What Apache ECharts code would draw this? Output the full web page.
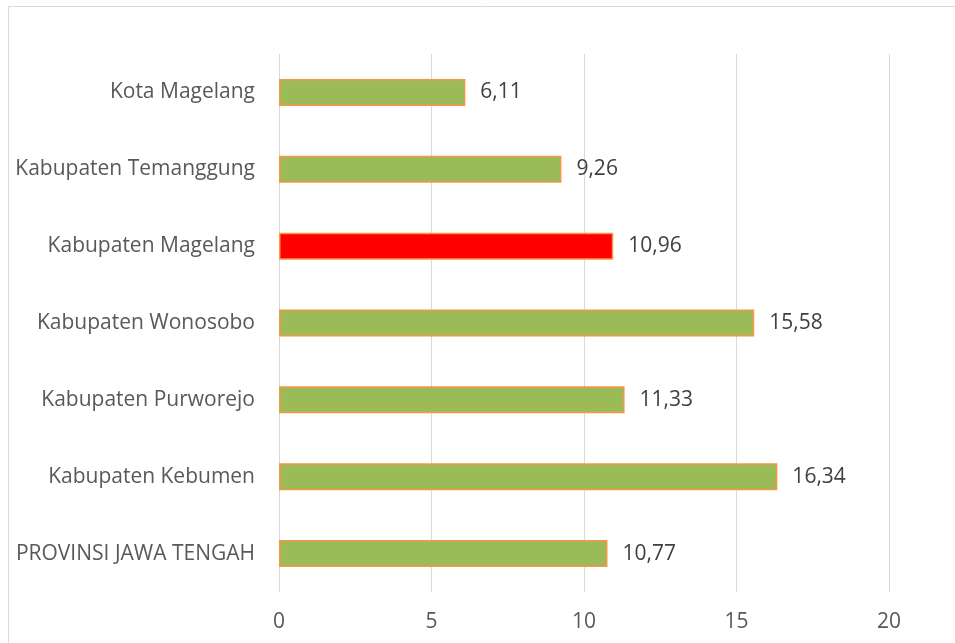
<html>
<head>
    <meta charset="utf-8">
    <title>ECharts</title>
    <script src="https://cdn.jsdelivr.net/npm/echarts@6/dist/echarts.min.js"></script>
    <style>
        html, body { margin: 0; padding: 0; background: #fff; }
    </style>
</head>
<body>
    <div id="main" style="width:955px;height:643px;"></div>
    <script type="text/javascript">
    // categories listed bottom to top, as the y axis draws them
    var regions = ['PROVINSI JAWA TENGAH', 'Kabupaten Kebumen', 'Kabupaten Purworejo',
                   'Kabupaten Wonosobo', 'Kabupaten Magelang', 'Kabupaten Temanggung', 'Kota Magelang'];
    var values = [10.77, 16.34, 11.33, 15.58, 10.96, 9.26, 6.11];
    var highlight = 'Kabupaten Magelang';

    var barData = [];
    for (var i = 0; i < values.length; i++) {
        barData.push({
            value: values[i],
            itemStyle: { color: regions[i] == highlight ? '#ff0000' : '#9bbb59' }
        });
    }

    var myChart = echarts.init(document.getElementById('main'));
    var font = 'Open Sans';
    var fs = 21;

    var option = {
        animation: false,
        textStyle: { fontFamily: font },
        graphic: [{
            type: 'rect',
            shape: { x: 8.5, y: 6.5, width: 1000, height: 700 },
            style: { fill: 'none', stroke: '#d9d9d9', lineWidth: 1 }
        }],
        grid: { left: 279, right: 66, top: 54, bottom: 51 },
        xAxis: {
            type: 'value',
            min: 0,
            max: 20,
            interval: 5,
            axisLine: { show: false },
            axisTick: { show: false },
            axisLabel: { color: '#595959', fontSize: fs, margin: 20, fontFamily: font },
            splitLine: { lineStyle: { color: '#d9d9d9', width: 1 } }
        },
        yAxis: {
            type: 'category',
            data: regions,
            axisLine: { show: false },
            axisTick: { show: false },
            axisLabel: { color: '#595959', fontSize: fs, margin: 24, fontFamily: font }
        },
        series: [{
            type: 'bar',
            data: barData,
            barWidth: 27,
            itemStyle: { borderColor: '#f79646', borderWidth: 1.5 },
            label: {
                show: true,
                position: 'right',
                distance: 15,
                color: '#404040',
                fontSize: fs,
                fontFamily: font,
                formatter: function (p) {
                    return String(p.value).replace('.', ',');
                }
            }
        }]
    };
    myChart.setOption(option);
    </script>
</body>
</html>
